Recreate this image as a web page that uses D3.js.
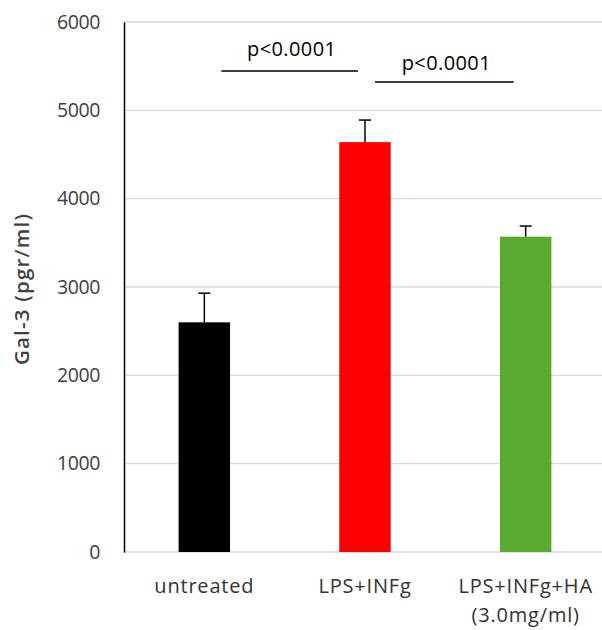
<!DOCTYPE html>
<html><head><meta charset="utf-8">
<script src="https://cdn.jsdelivr.net/npm/d3@7"></script>
<style>body{margin:0;background:#fff}</style>
</head><body>
<svg id="c" width="602" height="630"></svg>
<script>
const categories = ["untreated", "LPS+INFg", "LPS+INFg+HA\n(3.0mg/ml)"];
const values = [2600, 4640, 3570];
const errors = [330, 250, 120];
const colors = ["#000000", "#ff0000", "#5aaa32"];
const yTicks = [0, 1000, 2000, 3000, 4000, 5000, 6000];
const sigLabels = ["p<0.0001", "p<0.0001"];
const sigPairs = [[0, 1], [1, 2]];
const sigLevels = [5445, 5320];

const svg = d3.select("#c");
const font = "'Open Sans', 'Noto Sans', sans-serif";
const x = d3.scaleBand().domain(d3.range(categories.length)).range([124, 606]).paddingInner(0.68).paddingOuter(0.34);
const y = d3.scaleLinear().domain([0, 6000]).range([552, 22]);

// gridlines
svg.append("g").selectAll("line").data(yTicks).join("line")
  .attr("x1", 124).attr("x2", 602)
  .attr("y1", d => y(d)).attr("y2", d => y(d))
  .attr("stroke", "#d9d9d9").attr("stroke-width", 1.3);

// y axis
const ya = svg.append("g").attr("transform", "translate(124,0)")
  .call(d3.axisLeft(y).tickValues(yTicks).tickSize(0).tickPadding(24).tickFormat(d3.format("d")));
ya.select(".domain").attr("stroke", "#000").attr("stroke-width", 1.5);
ya.selectAll("text").attr("font-family", font).attr("font-size", 19.5).attr("fill", "#404040")
  .attr("letter-spacing", -0.4);

// bars
svg.append("g").selectAll("rect").data(values).join("rect")
  .attr("x", (d, i) => x(i)).attr("width", x.bandwidth())
  .attr("y", d => y(d)).attr("height", d => y(0) - y(d))
  .attr("fill", (d, i) => colors[i]);

// error bars
const eg = svg.append("g").attr("stroke", "#000").attr("stroke-width", 1.5);
values.forEach((v, i) => {
  const cx = x(i) + x.bandwidth() / 2;
  eg.append("line").attr("x1", cx).attr("x2", cx).attr("y1", y(v)).attr("y2", y(v + errors[i]));
  eg.append("line").attr("x1", cx - 6).attr("x2", cx + 6).attr("y1", y(v + errors[i])).attr("y2", y(v + errors[i]));
});

// significance
const sigOff = [[17, -7], [10, -12]];
const sigGap = [15, 12];
sigPairs.forEach((p, k) => {
  const x1 = x(p[0]) + x.bandwidth() / 2 + sigOff[k][0];
  const x2 = x(p[1]) + x.bandwidth() / 2 + sigOff[k][1];
  const yy = y(sigLevels[k]);
  svg.append("line").attr("x1", x1).attr("x2", x2).attr("y1", yy).attr("y2", yy)
    .attr("stroke", "#000").attr("stroke-width", 1.5);
  svg.append("text").attr("x", (x1 + x2) / 2 + 2).attr("y", yy - sigGap[k])
    .attr("text-anchor", "middle").attr("font-family", font).attr("font-size", 20)
    .attr("letter-spacing", 0.4).attr("fill", "#000").text(sigLabels[k]);
});

// x labels
categories.forEach((c, i) => {
  const t = svg.append("text").attr("x", x(i) + x.bandwidth() / 2).attr("y", 593)
    .attr("text-anchor", "middle").attr("font-family", font).attr("font-size", 20)
    .attr("letter-spacing", 0.8).attr("fill", "#333");
  c.split("\n").forEach((line, j) => {
    t.append("tspan").attr("x", x(i) + x.bandwidth() / 2).attr("dy", j === 0 ? 0 : 29).text(line);
  });
});

// y title
svg.append("text").attr("transform", "translate(29,289) rotate(-90)")
  .attr("text-anchor", "middle").attr("font-family", font).attr("font-size", 20.5)
  .attr("font-weight", 600).attr("letter-spacing", 1.2).attr("fill", "#404040").text("Gal-3 (pgr/ml)");
</script>
</body></html>
